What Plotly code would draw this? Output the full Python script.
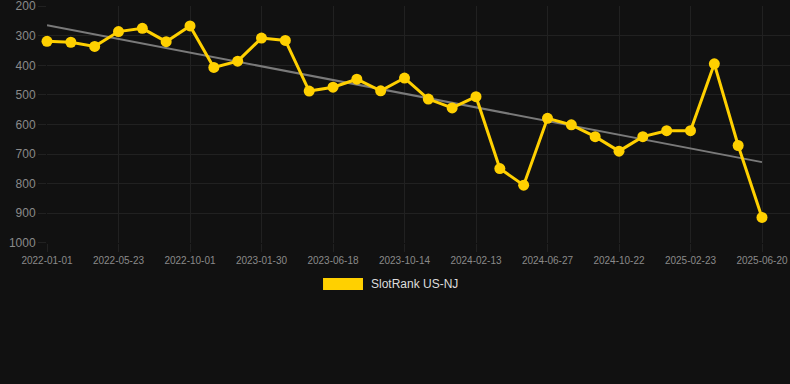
import numpy as np
import plotly.graph_objects as go

dates = [
    "2022-01-01", "2022-02-17", "2022-04-05", "2022-05-23", "2022-07-06", "2022-08-19",
    "2022-10-01", "2022-11-10", "2022-12-20", "2023-01-30", "2023-03-17", "2023-05-02",
    "2023-06-18", "2023-07-27", "2023-09-04", "2023-10-14", "2023-11-24", "2024-01-03",
    "2024-02-13", "2024-03-29", "2024-05-13", "2024-06-27", "2024-08-05", "2024-09-13",
    "2024-10-22", "2024-12-02", "2025-01-12", "2025-02-23", "2025-04-03", "2025-05-12",
    "2025-06-20",
]
rank = [
    319, 322, 336, 286, 275, 320, 267, 407, 386, 308, 316, 487, 474, 447, 486, 443,
    514, 544, 506, 749, 805, 579, 601, 641, 690, 641, 621, 621, 395, 671, 914,
]
tick_dates = dates[::3]
y_ticks = [200, 300, 400, 500, 600, 700, 800, 900, 1000]
series_name = "SlotRank US-NJ"

idx = np.arange(len(rank))
slope, intercept = np.polyfit(idx, rank, 1)
trend = slope * idx + intercept

BG = "#111111"
GRID = "#212121"
YELLOW = "#FFD000"

fig = go.Figure()
fig.add_trace(go.Scatter(
    x=[dates[0], dates[-1]], y=[trend[0], trend[-1]], mode="lines",
    line=dict(color="#7a7a7a", width=2), hoverinfo="skip", showlegend=False,
    cliponaxis=False,
))
fig.add_trace(go.Scatter(
    x=dates, y=rank, mode="lines+markers", name=series_name,
    line=dict(color=YELLOW, width=3),
    marker=dict(color=YELLOW, size=11),
    showlegend=False, cliponaxis=False,
))

fig.update_layout(
    width=790, height=384,
    paper_bgcolor=BG, plot_bgcolor=BG,
    margin=dict(l=47, r=0, t=6, b=141, autoexpand=False),
    font=dict(family="Liberation Sans, Arial, sans-serif", color="#8a8a8a"),
    xaxis=dict(
        type="category", categoryorder="array", categoryarray=dates,
        range=[0, 31.175], tickmode="array", tickvals=tick_dates, ticktext=tick_dates,
        showgrid=True, gridcolor=GRID, gridwidth=1, zeroline=False,
        ticks="outside", ticklen=8, tickcolor=GRID, showline=False,
        tickfont=dict(size=10, color="#8a8a8a"), tickangle=0, automargin=False,
        ticklabeloverflow="allow",
    ),
    yaxis=dict(
        range=[1000.5, 199.5], tickmode="array", tickvals=y_ticks,
        showgrid=True, gridcolor=GRID, gridwidth=1, zeroline=False,
        ticks="outside", ticklen=8, tickcolor=GRID, showline=False,
        tickfont=dict(size=12, color="#8a8a8a"), automargin=False,
        ticklabeloverflow="allow",
    ),
    showlegend=False,
)

# legend drawn manually (Chart.js-style box)
fig.add_shape(type="rect", xref="paper", yref="paper",
              x0=0.3715, x1=0.4253, y0=-0.1983, y1=-0.1477,
              fillcolor=YELLOW, line=dict(width=0))
fig.add_annotation(xref="paper", yref="paper", x=0.4334, y=-0.173,
                   text=series_name, showarrow=False, xanchor="left", yanchor="middle",
                   font=dict(size=12, color="#dddddd"))

fig.write_html(
    "out.html",
    config={"displayModeBar": False},
    post_script="document.body.style.margin='0';document.body.style.background='#111111';",
)
